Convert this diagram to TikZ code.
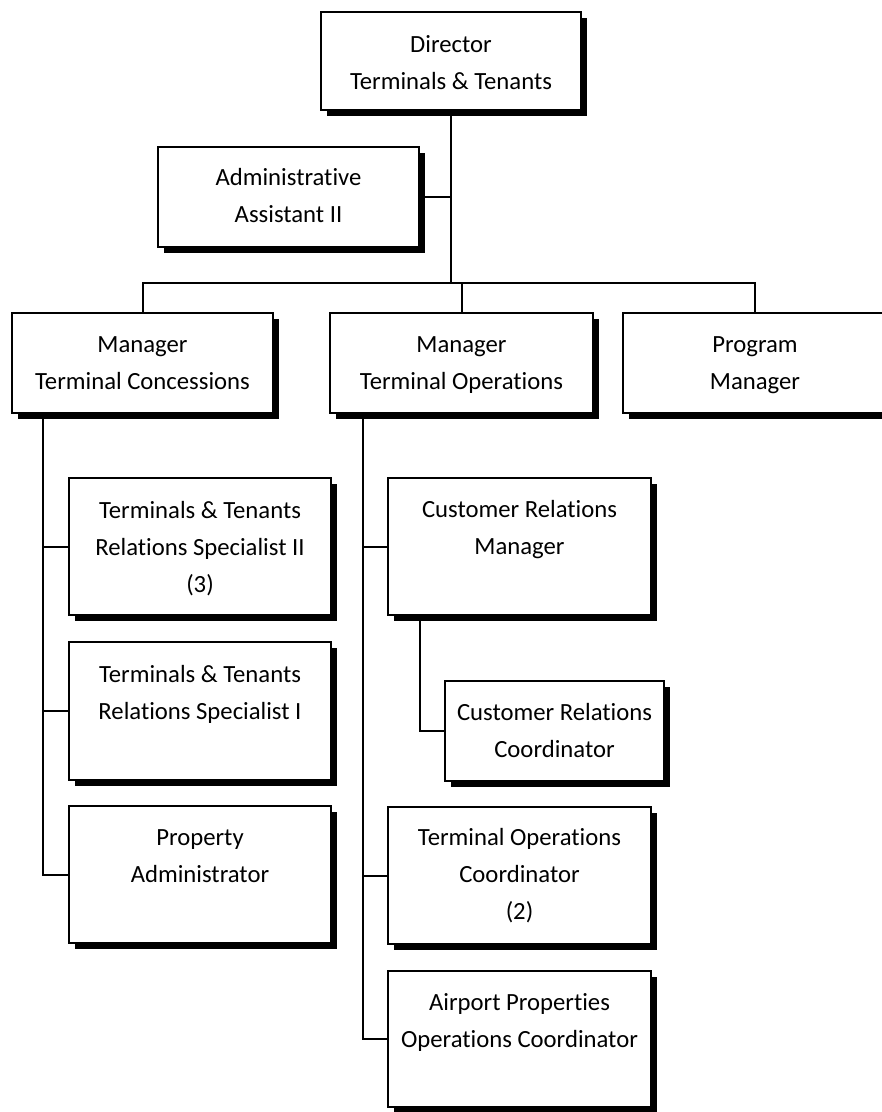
\documentclass[tikz,border=0pt]{standalone}
\usepackage{fontspec}
\setmainfont{Carlito}[Ligatures={NoCommon}]
\usetikzlibrary{shadows}
\newcommand{\cellfont}{\fontsize{24.7}{37}\selectfont}
\tikzset{
  orgbox/.style={draw, line width=2pt, fill=white, inner sep=0pt, outer sep=0pt,
    anchor=north west,
    drop shadow={shadow xshift=6pt, shadow yshift=-6pt, fill=black, opacity=1}},
  lbl/.style={font=\cellfont, align=center, inner sep=0pt, anchor=north},
  conn/.style={line width=2pt}
}
% name, left, top, right, bottom, first-baseline offset, text
\newcommand{\obox}[7]{%
  \node[orgbox, minimum width={(#4-#2)*1pt}, minimum height={(#5-#3)*1pt}] (#1) at (#2,#3) {};
  \node[lbl] (#1t) at (#1.north) {\rule{0pt}{#6pt}#7};
}
\begin{document}
\begin{tikzpicture}[x=1pt,y=-1pt]
\useasboundingbox (0,0) rectangle (882,1112);
\obox{dir}{321}{12}{581}{110}{40}{Director\\Terminals \& Tenants}
\obox{adm}{158}{147}{419}{247}{38}{Administrative\\Assistant II}
\obox{mtc}{12}{313}{273}{413}{39}{Manager\\Terminal Concessions}
\obox{mto}{330}{313}{593}{413}{39}{Manager\\Terminal Operations}
\obox{pm}{623}{313}{887}{413}{39}{Program\\Manager}
\obox{tt2}{69}{478}{331}{615}{40}{Terminals \& Tenants\\Relations Specialist II\\(3)}
\obox{tt1}{69}{642}{331}{780}{40}{Terminals \& Tenants\\Relations Specialist I}
\obox{pa}{69}{806}{331}{943}{39}{Property\\Administrator}
\obox{crm}{388}{478}{651}{615}{39}{Customer Relations\\Manager}
\obox{crc}{445}{681}{664}{781}{39}{Customer Relations\\Coordinator}
\obox{toc}{388}{807}{651}{944}{38}{Terminal Operations\\Coordinator\\(2)}
\obox{apo}{388}{971}{651}{1107}{39}{Airport Properties\\Operations Coordinator}

\coordinate (bar) at (451,283);
\draw[conn] (dir.south) -- (bar);
\draw[conn] (adm.east) -- (adm.east -| bar);
\draw[conn] (mtc.north) |- (bar) -| (pm.north);
\draw[conn] (mto.north) -- (mto.north |- bar);

\coordinate (lc) at ([xshift=31pt]mtc.south west);
\draw[conn] (lc) |- (pa.west);
\draw[conn] (tt2.west) -- (tt2.west -| lc);
\draw[conn] (tt1.west) -- (tt1.west -| lc);

\coordinate (mc) at ([xshift=33pt]mto.south west);
\draw[conn] (mc) |- (apo.west);
\draw[conn] (crm.west) -- (crm.west -| mc);
\draw[conn] (toc.west) -- (toc.west -| mc);

\coordinate (cc) at ([xshift=32pt]crm.south west);
\draw[conn] (cc) |- (crc.west);
\end{tikzpicture}
\end{document}
